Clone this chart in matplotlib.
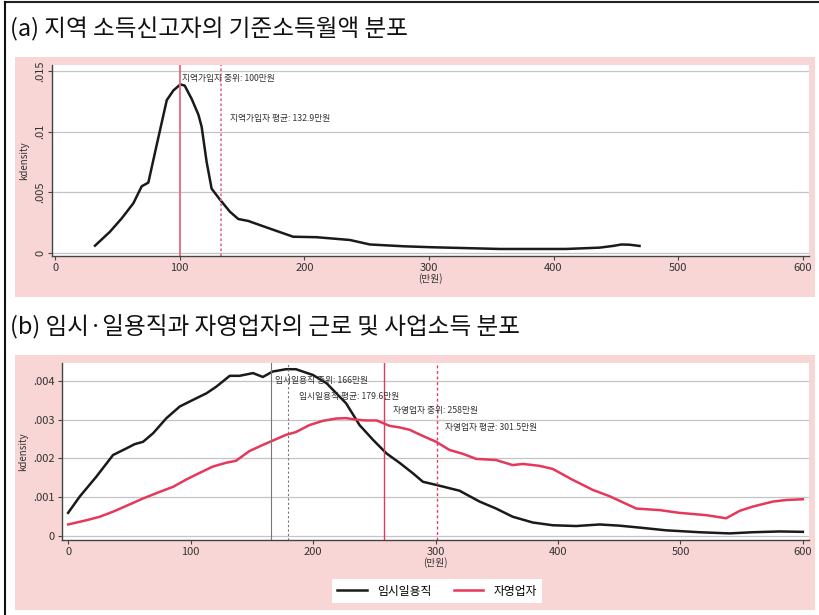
import matplotlib as mpl
mpl.use('Agg')
import matplotlib.pyplot as plt
from matplotlib.patches import Rectangle
from matplotlib.lines import Line2D

plt.rcParams['font.family'] = ['Noto Sans CJK KR', 'DejaVu Sans']

# (a) 지역 소득신고자 kdensity
a_x = [32, 44, 53.5, 62.8, 69.5, 74.8, 81.5, 89.6, 94.9, 100.5, 104, 109.6, 115, 117.6,
       121.6, 125.6, 132.3, 140.3, 147, 155, 169.8, 191, 209.8, 236.6, 252.6, 280,
       303, 357, 410, 437, 447.7, 454.5, 461, 469]
a_y = [0.0006, 0.00175, 0.00286, 0.0041, 0.0055, 0.0058, 0.0089, 0.0126, 0.0134, 0.0139,
       0.0138, 0.0127, 0.0114, 0.0104, 0.0075, 0.0053, 0.0044, 0.0034, 0.0028, 0.00264,
       0.0021, 0.00134, 0.0013, 0.00107, 0.0007, 0.00055, 0.00047, 0.00033, 0.00033,
       0.00044, 0.00058, 0.0007, 0.00068, 0.00058]
a_median = 100
a_mean = 132.9

# (b) 임시일용직
b1_x = [0, 9.5, 23, 36.7, 47.6, 54.4, 61.2, 69.4, 80.3, 91.2, 102, 113, 121, 132, 140,
        151, 159, 167, 178, 186, 200, 211, 227, 238, 249, 260, 271, 281.5, 289.7, 300.5,
        319.6, 336, 349.5, 363, 379.5, 395.8, 414.9, 434, 450, 466.6, 488, 515.6, 540,
        559, 581, 600]
b1_y = [0.0006, 0.00102, 0.00153, 0.00209, 0.00226, 0.00237, 0.00243, 0.00265, 0.00304,
        0.00334, 0.00351, 0.00368, 0.00385, 0.00413, 0.00413, 0.0042, 0.0041, 0.00424,
        0.0043, 0.0043, 0.00415, 0.00394, 0.00342, 0.00286, 0.00248, 0.00213, 0.00188,
        0.00162, 0.0014, 0.00132, 0.00117, 0.00089, 0.00071, 0.0005, 0.00035, 0.00028,
        0.00026, 0.0003, 0.00027, 0.00022, 0.00015, 0.0001, 0.00007, 0.0001, 0.00012,
        0.00011]
# (b) 자영업자
b2_x = [0, 15, 25.9, 36.7, 47.6, 61.2, 74.8, 85.7, 96.6, 107.5, 118, 129, 137, 148, 159,
        170, 178, 186, 197, 208, 219, 227, 235, 243.5, 252, 262.6, 270.7, 278.8, 289.7,
        300.5, 311.4, 322.3, 333.2, 349.5, 363, 371.3, 385, 395.8, 412, 428.5, 442, 464,
        483, 499, 521, 537.4, 548.3, 559, 575.5, 586.4, 600]
b2_y = [0.0003, 0.00041, 0.0005, 0.00063, 0.00078, 0.00097, 0.00114, 0.00127, 0.00146,
        0.00163, 0.00179, 0.00189, 0.00194, 0.00219, 0.00235, 0.0025, 0.00261, 0.00268,
        0.00286, 0.00297, 0.00303, 0.00304, 0.003, 0.00298, 0.00298, 0.00284, 0.0028,
        0.00274, 0.00258, 0.00243, 0.00222, 0.00212, 0.00199, 0.00196, 0.00183, 0.00186,
        0.00181, 0.00173, 0.00145, 0.00119, 0.00103, 0.00071, 0.00067, 0.0006, 0.00054,
        0.00046, 0.00065, 0.00076, 0.00089, 0.00093, 0.00095]
b1_median, b1_mean = 166, 179.6
b2_median, b2_mean = 258, 301.5

W, H = 819, 615
PINK = '#f8d6d6'
RED = '#e5385a'
RED_A = '#e26a86'
GRID = '#c4c4c4'
NOTE_SIZE = 6.3


def fx(px):
  return px / W


def fy(py):
  return 1 - py / H


def style_axis(ax):
  ax.set_facecolor('white')
  for side in ['top', 'right']:
    ax.spines[side].set_visible(False)
  for side in ['left', 'bottom']:
    ax.spines[side].set_color('#444444')
    ax.spines[side].set_linewidth(1.0)
  ax.tick_params(axis='both', direction='out', length=3, width=0.8, color='#444444',
                 labelsize=8, labelcolor='#333333', pad=2)
  ax.yaxis.grid(True, color=GRID, linewidth=0.9)
  ax.set_axisbelow(True)
  ax.set_xticks([0, 100, 200, 300, 400, 500, 600])
  ax.set_xlabel('(만원)', fontsize=7, color='#333333', labelpad=0)
  ax.set_ylabel('kdensity', fontsize=7, color='#333333')


fig = plt.figure(figsize=(W / 100, H / 100), dpi=100)
fig.patch.set_facecolor('white')

# outer frame lines
fig.add_artist(Line2D([fx(5), fx(818)], [fy(1.5), fy(1.5)], color='#222222', lw=1.5))
fig.add_artist(Line2D([fx(5), fx(5)], [fy(1.5), fy(615)], color='#111111', lw=1.5))

# pink panels
fig.add_artist(Rectangle((fx(15), fy(297)), fx(800), 240 / H, facecolor=PINK,
                         edgecolor='none', zorder=0))
fig.add_artist(Rectangle((fx(15), fy(610)), fx(800), 255 / H, facecolor=PINK,
                         edgecolor='none', zorder=0))

fig.text(fx(10), fy(29), '(a) 지역 소득신고자의 기준소득월액 분포', fontsize=17,
         va='center', ha='left', color='#111111')
fig.text(fx(10), fy(327), '(b) 임시·일용직과 자영업자의 근로 및 사업소득 분포', fontsize=17,
         va='center', ha='left', color='#111111')

# panel (a)
ax1 = fig.add_axes([fx(52), fy(256), fx(757), 191 / H])
style_axis(ax1)
ax1.plot(a_x, a_y, color='#1a1a1a', lw=1.8)
ax1.axvline(a_median, color=RED_A, lw=1.3)
ax1.axvline(a_mean, color=RED_A, lw=1.2, linestyle=(0, (1.5, 1.5)))
ax1.text(102, 0.0144, '지역가입자 중위: 100만원', fontsize=NOTE_SIZE, color='#333333', va='center')
ax1.text(140, 0.0111, '지역가입자 평균: 132.9만원', fontsize=NOTE_SIZE, color='#333333', va='center')
ax1.set_xlim(-2.5, 605)
ax1.set_ylim(-0.00025, 0.0155)
ax1.set_yticks([0, 0.005, 0.01, 0.015])
ax1.set_yticklabels(['0', '.005', '.01', '.015'], rotation=90, va='center')

# panel (b)
ax2 = fig.add_axes([fx(62), fy(540), fx(747), 177 / H])
style_axis(ax2)
ax2.plot(b1_x, b1_y, color='#1a1a1a', lw=1.8, label='임시일용직')
ax2.plot(b2_x, b2_y, color=RED, lw=1.8, label='자영업자')
ax2.axvline(b1_median, color='#777777', lw=0.8)
ax2.axvline(b1_mean, color='#777777', lw=0.8, linestyle=(0, (2, 2)))
ax2.axvline(b2_median, color=RED, lw=1.0)
ax2.axvline(b2_mean, color=RED, lw=1.0, linestyle=(0, (2, 2)))
ax2.text(169, 0.0040, '임시일용직 중위: 166만원', fontsize=NOTE_SIZE, color='#333333', va='center')
ax2.text(188.5, 0.00359, '임시일용직 평균: 179.6만원', fontsize=NOTE_SIZE, color='#333333', va='center')
ax2.text(265, 0.00323, '자영업자 중위: 258만원', fontsize=NOTE_SIZE, color='#333333', va='center')
ax2.text(308, 0.00279, '자영업자 평균: 301.5만원', fontsize=NOTE_SIZE, color='#333333', va='center')
ax2.set_xlim(-5, 605)
ax2.set_ylim(-0.0001, 0.00446)
ax2.set_yticks([0, 0.001, 0.002, 0.003, 0.004])
ax2.set_yticklabels(['0', '.001', '.002', '.003', '.004'])

leg = fig.legend(handles=ax2.get_lines()[:2], loc='center', ncol=2,
                 bbox_to_anchor=(fx(437), fy(591)), fontsize=8.5, frameon=True,
                 fancybox=False, handlelength=2.5, columnspacing=1.9,
                 borderpad=0.45, handletextpad=0.85)
leg.get_frame().set_edgecolor('none')
leg.get_frame().set_facecolor('white')
leg.get_frame().set_alpha(1)

fig.savefig('out.png', dpi=100)
plt.close()
